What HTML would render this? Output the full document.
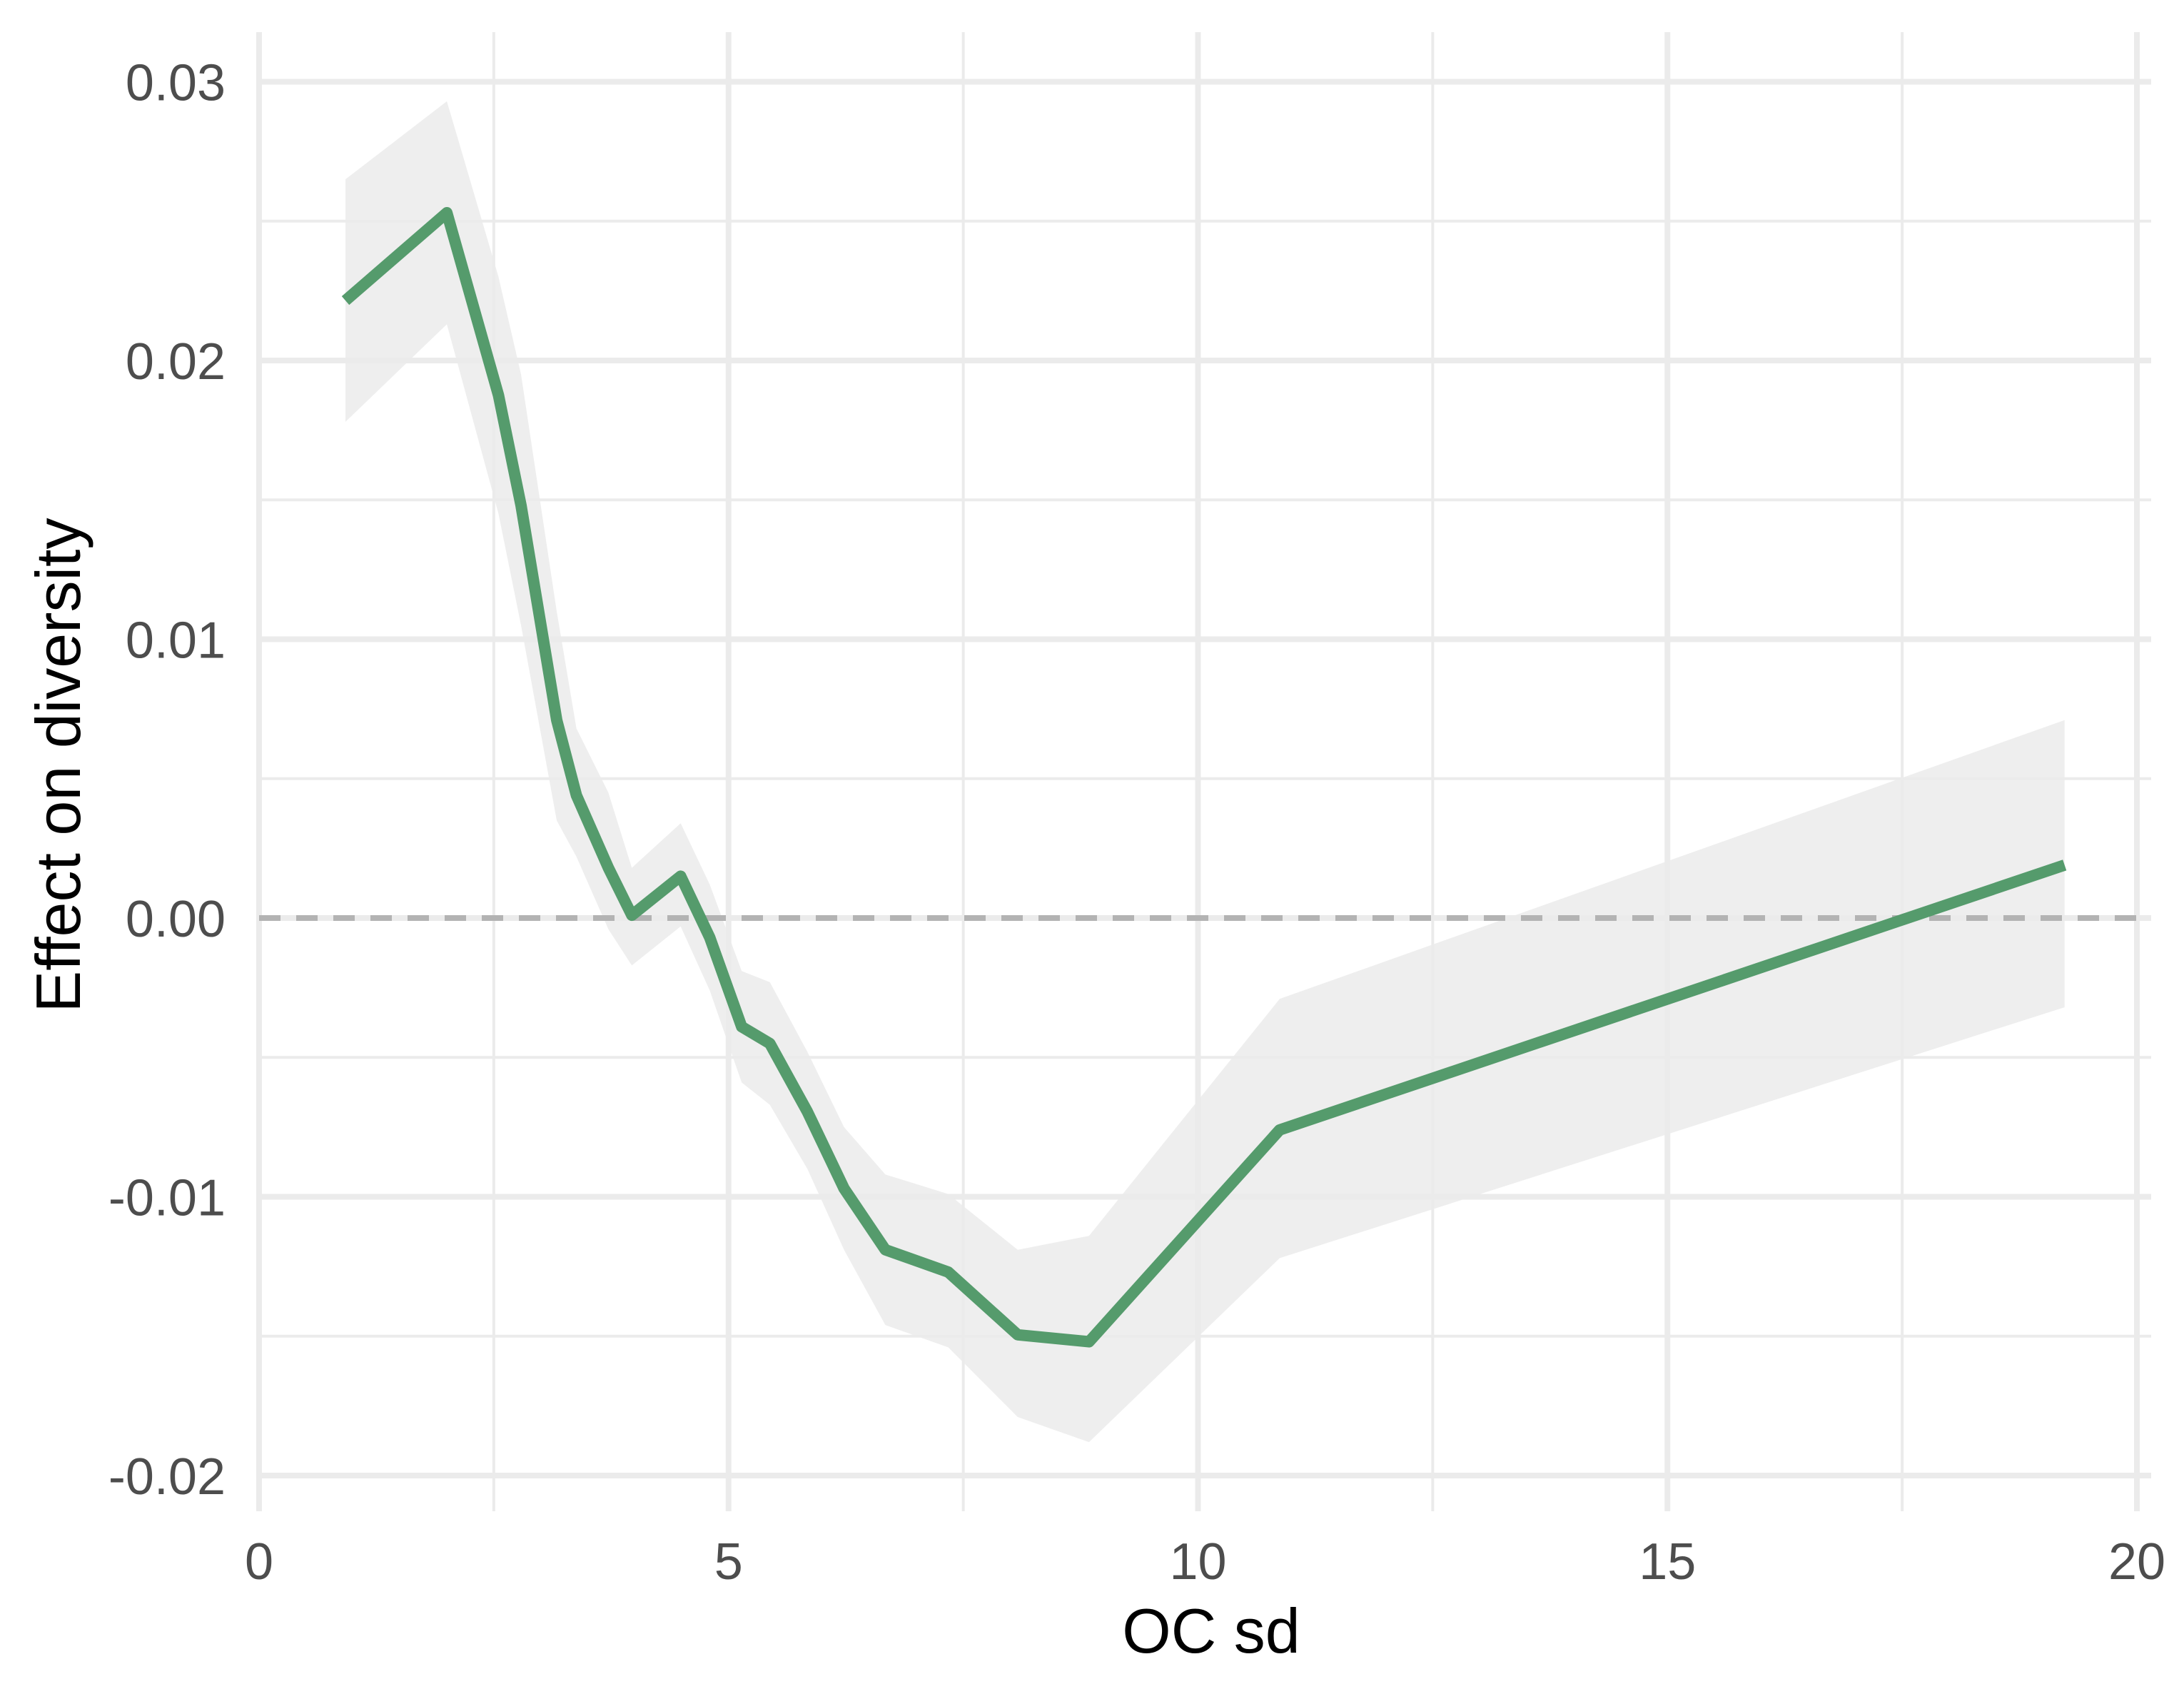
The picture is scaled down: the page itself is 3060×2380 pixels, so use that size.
<!DOCTYPE html>
<html><head><meta charset="utf-8"><style>
html,body{margin:0;padding:0;background:#fff}
svg{display:block;font-family:"Liberation Sans",Arial,sans-serif}
</style></head><body>
<svg id="chart" width="3060" height="2380" viewBox="0 0 3060 2380" xmlns="http://www.w3.org/2000/svg">
<g id="grid"></g>
<g id="band"></g>
<line id="zero" stroke="#b3b3b3" stroke-width="8" stroke-dasharray="30,22"/>
<g id="line"></g>
<g id="yticks"></g>
<g id="xticks"></g>
<text x="1697" y="2315" font-size="88" text-anchor="middle" fill="#000">OC sd</text>
<text transform="translate(112,1072) rotate(-90)" font-size="88" text-anchor="middle" fill="#000">Effect on diversity</text>
</svg>
<script>
const xs = [0.92,2.0,2.55,2.79,3.17,3.38,3.72,3.97,4.49,4.8,5.14,5.44,5.84,6.23,6.67,7.34,8.08,8.84,10.87,19.23];
const est = [0.02215,0.0253,0.01875,0.0148,0.0071,0.0044,0.0018,0.0001,0.0015,-0.0007,-0.0039,-0.0045,-0.00695,-0.0097,-0.0119,-0.0127,-0.01495,-0.0152,-0.0076,0.0019];
const upper = [0.0265,0.0293,0.023,0.0195,0.011,0.0068,0.0045,0.0018,0.0034,0.0012,-0.0019,-0.0023,-0.0048,-0.0075,-0.0092,-0.0099,-0.0119,-0.0114,-0.0029,0.0071];
const lower = [0.0178,0.0213,0.0145,0.0105,0.0035,0.0022,-0.0004,-0.0017,-0.0003,-0.0026,-0.0059,-0.0067,-0.009,-0.0119,-0.0146,-0.0154,-0.0179,-0.0188,-0.0122,-0.0032];
const xTicks = [0,5,10,15,20];
const xTickLabels = ["0","5","10","15","20"];
const yTicks = [-0.02,-0.01,0,0.01,0.02,0.03];
const yTickLabels = ["-0.02","-0.01","0.00","0.01","0.02","0.03"];
const xMinor = [2.5,7.5,12.5,17.5];
const yMinor = [-0.015,-0.005,0.005,0.015,0.025];

const NS="http://www.w3.org/2000/svg";
const X = v => 363 + v*131.55;
const Y = v => 1286 - v*39050;
const PL=363, PR=3014, PT=45, PB=2117;
function mk(tag, attrs, parent){const e=document.createElementNS(NS,tag);for(const k in attrs)e.setAttribute(k,attrs[k]);parent.appendChild(e);return e;}
const grid=document.getElementById('grid');
xMinor.forEach(v=>{const e=mk('line',{x1:X(v),x2:X(v),y1:PT,y2:PB,stroke:'#ebebeb','stroke-width':4},grid);

});
yMinor.forEach(v=>{const e=mk('line',{x1:PL,x2:PR,y1:Y(v),y2:Y(v),stroke:'#ebebeb','stroke-width':4},grid);

});
xTicks.forEach(v=>{const e=mk('line',{x1:X(v),x2:X(v),y1:PT,y2:PB,stroke:'#ebebeb','stroke-width':8},grid);

});
yTicks.forEach(v=>{const e=mk('line',{x1:PL,x2:PR,y1:Y(v),y2:Y(v),stroke:'#ebebeb','stroke-width':8},grid);

});
let d='M'+xs.map((x,i)=>X(x)+','+Y(upper[i])).join(' L');
for(let i=xs.length-1;i>=0;i--) d+=' L'+X(xs[i])+','+Y(lower[i]);
const b=mk('path',{d:d+' Z',fill:'#ebebeb','fill-opacity':0.85},document.getElementById('band'));


const z=document.getElementById('zero');
z.setAttribute('x1',PL);z.setAttribute('x2',PR);z.setAttribute('y1',Y(0));z.setAttribute('y2',Y(0));
const l=mk('polyline',{points:xs.map((x,i)=>X(x)+','+Y(est[i])).join(' '),fill:'none',stroke:'#559b6c','stroke-width':16,'stroke-linejoin':'round'},document.getElementById('line'));


const yt=document.getElementById('yticks');
yTicks.forEach((v,i)=>{const t=mk('text',{x:316,y:Y(v)+26,'font-size':72,'text-anchor':'end',fill:'#4d4d4d'},yt);t.textContent=yTickLabels[i];

});
const xt=document.getElementById('xticks');
xTicks.forEach((v,i)=>{const t=mk('text',{x:X(v),y:2212,'font-size':72,'text-anchor':'middle',fill:'#4d4d4d'},xt);t.textContent=xTickLabels[i];

});
</script>
</body></html>
